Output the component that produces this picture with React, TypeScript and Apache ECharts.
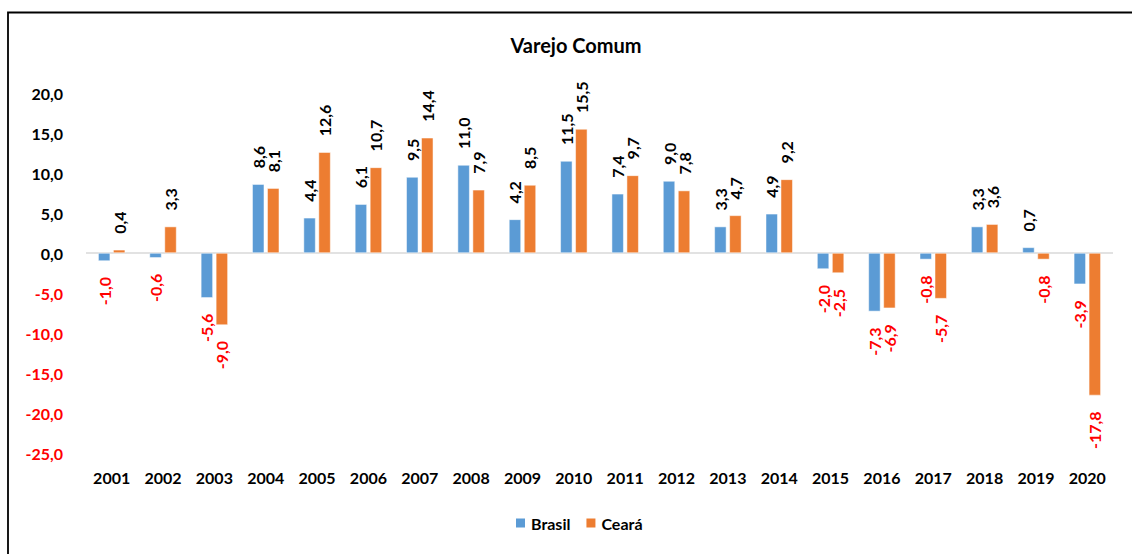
import React, { useEffect, useRef } from "react";
import * as echarts from "echarts";

const categories = ["2001","2002","2003","2004","2005","2006","2007","2008","2009","2010","2011","2012","2013","2014","2015","2016","2017","2018","2019","2020"];
const brasil = [-1.0,-0.6,-5.6,8.6,4.4,6.1,9.5,11.0,4.2,11.5,7.4,9.0,3.3,4.9,-2.0,-7.3,-0.8,3.3,0.7,-3.9];
const ceara = [0.4,3.3,-9.0,8.1,12.6,10.7,14.4,7.9,8.5,15.5,9.7,7.8,4.7,9.2,-2.5,-6.9,-5.7,3.6,-0.8,-17.8];
const seriesNames = ["Brasil", "Ceará"];
const titleText = "Varejo Comum";

const FONT = "Lato";
const fmt = (v: number) => v.toFixed(1).replace(".", ",");

const toItems = (arr: number[]) =>
  arr.map((v) => ({
    value: v,
    label: v >= 0
      ? { position: "top", align: "left", color: "#000000" }
      : { position: "bottom", align: "right", color: "#FF0000" },
  }));

export default function App() {
  const ref = useRef<HTMLDivElement>(null);
  useEffect(() => {
    if (!ref.current) return;
    const chart = echarts.init(ref.current, undefined, { renderer: "svg" });
    const labelBase = {
      show: true,
      rotate: 90,
      distance: 16,
      verticalAlign: "middle",
      fontFamily: FONT,
      fontWeight: "bold",
      fontSize: 16,
      formatter: (p: any) => fmt(p.value),
    };
    chart.setOption({
      animation: false,
      backgroundColor: "#ffffff",
      graphic: [
        {
          type: "rect",
          shape: { x: 8, y: 12.5, width: 1140, height: 560 },
          style: { fill: "none", stroke: "#000000", lineWidth: 1.8 },
          silent: true,
        },
        {
          type: "text",
          x: 576,
          y: 35,
          style: {
            text: titleText,
            fontFamily: FONT,
            fontWeight: "bold",
            fontSize: 20,
            fill: "#000000",
            textAlign: "center",
            textVerticalAlign: "top",
          },
        },
      ],
      legend: {
        data: seriesNames,
        left: 509,
        top: 510,
        icon: "rect",
        itemWidth: 11,
        itemHeight: 11,
        itemGap: 14,
        textStyle: { fontFamily: FONT, fontWeight: "bold", fontSize: 16, color: "#000000" },
      },
      grid: { left: 86, right: 19, top: 93, bottom: 101, containLabel: false },
      xAxis: {
        type: "category",
        data: categories,
        axisLine: { show: false, onZero: false },
        axisTick: { show: false },
        axisLabel: {
          margin: 16,
          fontFamily: FONT,
          fontWeight: "bold",
          fontSize: 16,
          color: "#000000",
        },
      },
      yAxis: {
        type: "value",
        min: -25,
        max: 20,
        interval: 5,
        splitLine: { show: false },
        axisLine: { show: false },
        axisTick: { show: false },
        axisLabel: {
          margin: 23,
          fontFamily: FONT,
          fontWeight: "bold",
          fontSize: 16,
          formatter: (v: number) => fmt(v),
          color: (v: any) => (Number(v) < 0 ? "#FF0000" : "#000000"),
        },
      },
      series: [
        {
          name: seriesNames[0],
          type: "bar",
          data: toItems(brasil),
          barWidth: 12,
          barGap: "25%",
          itemStyle: { color: "#5B9BD5", borderColor: "#ffffff", borderWidth: 0.5 },
          label: labelBase,
          markLine: {
            silent: true,
            symbol: ["none", "none"],
            label: { show: false },
            lineStyle: { color: "#D9D9D9", width: 1.5, type: "solid" },
            data: [{ yAxis: 0 }],
            z: 1,
          },
        },
        {
          name: seriesNames[1],
          type: "bar",
          data: toItems(ceara),
          barWidth: 12,
          barGap: "25%",
          itemStyle: { color: "#ED7D31", borderColor: "#ffffff", borderWidth: 0.5 },
          label: labelBase,
        },
      ],
    });
    return () => chart.dispose();
  }, []);
  return (
    <div
      ref={ref}
      style={{ position: "absolute", left: 0, top: 0, width: 1132, height: 554 }}
    />
  );
}
